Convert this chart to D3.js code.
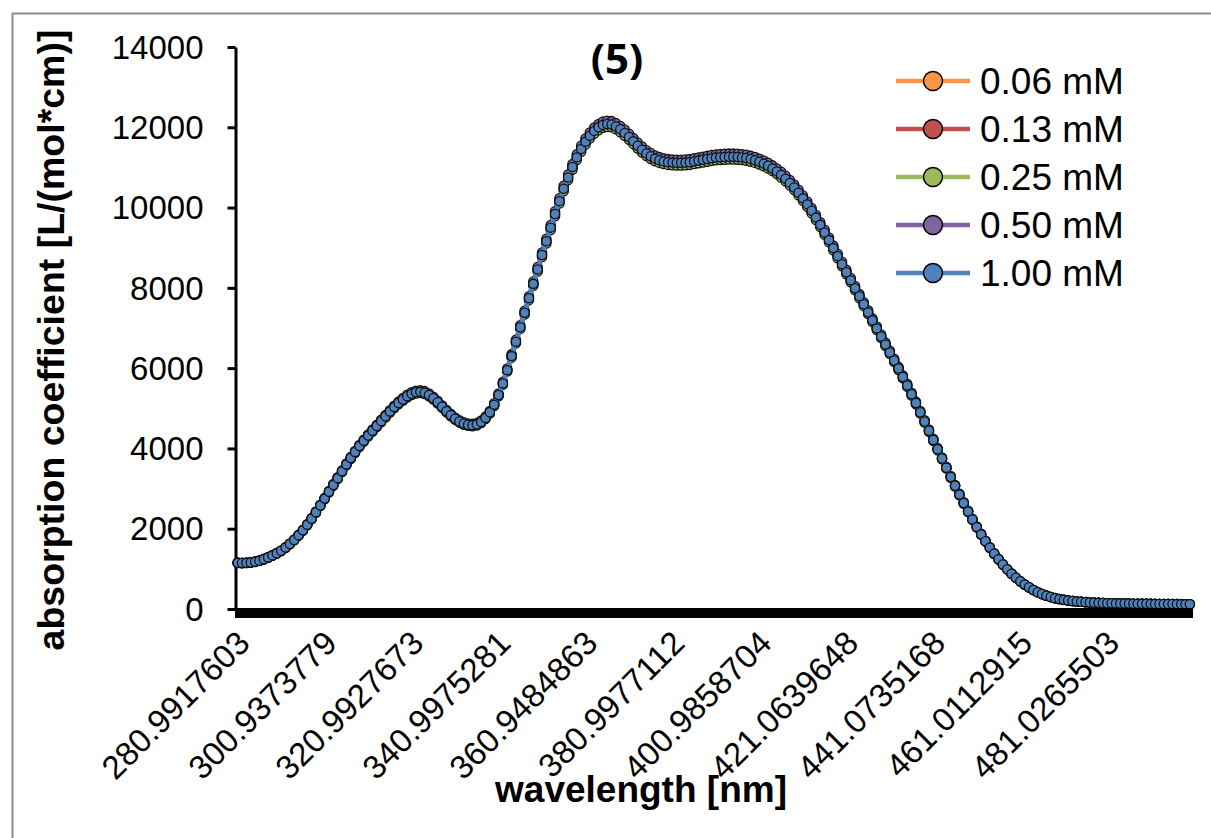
<!DOCTYPE html>
<html>
<head>
<meta charset="utf-8">
<script src="https://cdn.jsdelivr.net/npm/d3@7"></script>
<style>
  html, body { margin: 0; padding: 0; background: #fff; }
  svg { display: block; font-family: "Liberation Sans", Arial, sans-serif; }
</style>
</head>
<body>
<svg id="chart" width="1211" height="838"></svg>
<script>
/* ============================================
   Absorption spectrum (5) - line chart with markers
   categorical wavelength axis, 5 concentrations
   ============================================ */

// Wavelength categories [nm]
const wavelengths = [
  280.9917603, 281.99, 282.98, 283.98, 284.98, 285.98, 286.97, 287.97, 288.97, 289.97, 290.96, 291.96, 292.96, 293.95, 294.95, 295.95, 296.95, 297.94, 298.94, 299.94,
  300.9373779, 301.94, 302.94, 303.95, 304.95, 305.95, 306.95, 307.96, 308.96, 309.96, 310.96, 311.97, 312.97, 313.97, 314.98, 315.98, 316.98, 317.99, 318.99, 319.99,
  320.9927673, 321.99, 322.99, 323.99, 324.99, 325.99, 326.99, 327.99, 328.99, 330.00, 331.00, 332.01, 333.00, 334.01, 335.00, 336.01, 337.00, 338.01, 339.00, 340.01,
  340.9975281, 342.00, 343.00, 343.99, 344.99, 345.99, 346.98, 347.98, 348.98, 349.98, 350.97, 351.97, 352.97, 353.97, 354.96, 355.96, 356.96, 357.96, 358.95, 359.95,
  360.9484863, 361.95, 362.95, 363.96, 364.96, 365.96, 366.96, 367.97, 368.97, 369.97, 370.97, 371.98, 372.98, 373.98, 374.98, 375.99, 376.99, 377.99, 378.99, 380.00,
  380.9977112, 382.00, 383.00, 384.01, 384.99, 385.99, 386.99, 387.99, 388.99, 389.99, 390.99, 391.99, 392.99, 393.99, 394.99, 395.99, 396.99, 397.99, 398.99, 399.99,
  400.9858704, 401.99, 402.99, 404.00, 405.00, 406.00, 407.01, 408.01, 409.02, 410.02, 411.02, 412.03, 413.03, 414.04, 415.04, 416.04, 417.05, 418.05, 419.06, 420.06,
  421.0639648, 422.06, 423.07, 424.07, 425.07, 426.07, 427.07, 428.07, 429.07, 430.07, 431.07, 432.07, 433.07, 434.07, 435.07, 436.07, 437.07, 438.07, 439.07, 440.07,
  441.0735168, 442.07, 443.07, 444.06, 445.06, 446.06, 447.05, 448.05, 449.05, 450.04, 451.04, 452.04, 453.04, 454.03, 455.03, 456.03, 457.02, 458.02, 459.02, 460.01,
  461.0112915, 462.01, 463.01, 464.01, 465.01, 466.02, 467.02, 468.02, 469.02, 470.02, 471.02, 472.02, 473.02, 474.02, 475.02, 476.02, 477.02, 478.02, 479.03, 480.03,
  481.0265503, 482.03, 483.03, 484.03, 485.03, 486.03, 487.03, 488.03, 489.03, 490.03, 491.03, 492.03, 493.03, 494.03, 495.03, 496.03, 497.03, 498.03, 499.03, 500.03
];

// Absorption coefficient [L/(mol*cm)] per concentration
const conc006 = [
  1148, 1143, 1148, 1158, 1176, 1203, 1238, 1282, 1332, 1387, 1447, 1527, 1617, 1717, 1831, 1956, 2096, 2245, 2405, 2575,
  2744, 2914, 3084, 3253, 3423, 3593, 3752, 3902, 4052, 4182, 4311, 4431, 4551, 4671, 4790, 4910, 5020, 5120, 5210, 5289,
  5349, 5389, 5399, 5379, 5319, 5240, 5140, 5030, 4920, 4820, 4731, 4661, 4611, 4581, 4571, 4591, 4651, 4750, 4890, 5080,
  5319, 5609, 5938, 6287, 6647, 7006, 7365, 7725, 8084, 8443, 8802, 9142, 9481, 9820, 10140, 10449, 10729, 10988, 11228, 11437,
  11617, 11766, 11886, 11976, 12036, 12056, 12046, 11996, 11926, 11836, 11736, 11627, 11517, 11417, 11327, 11257, 11198, 11158, 11128, 11108,
  11098, 11093, 11093, 11098, 11108, 11128, 11148, 11168, 11188, 11208, 11223, 11233, 11238, 11243, 11243, 11238, 11228, 11213, 11188, 11158,
  11118, 11073, 11018, 10953, 10878, 10793, 10699, 10594, 10479, 10349, 10210, 10060, 9900, 9731, 9551, 9361, 9172, 8972, 8772, 8573,
  8373, 8174, 7974, 7774, 7575, 7375, 7176, 6976, 6776, 6577, 6377, 6178, 5978, 5768, 5559, 5339, 5120, 4890, 4661, 4431,
  4202, 3972, 3743, 3513, 3283, 3064, 2844, 2635, 2425, 2226, 2036, 1856, 1687, 1527, 1377, 1238, 1108, 988, 878, 778,
  689, 609, 539, 474, 419, 371, 331, 297, 269, 246, 228, 212, 199, 188, 179, 171, 164, 158, 153, 149,
  145, 142, 140, 138, 136, 134, 132, 131, 130, 129, 128, 127, 126, 125, 124, 123, 122, 121, 120, 119
];
const conc013 = [
  1153, 1148, 1153, 1163, 1182, 1209, 1244, 1289, 1339, 1394, 1454, 1535, 1625, 1725, 1841, 1966, 2106, 2257, 2417, 2588,
  2758, 2929, 3099, 3270, 3440, 3611, 3771, 3922, 4072, 4203, 4333, 4453, 4574, 4694, 4814, 4935, 5045, 5145, 5236, 5316,
  5376, 5416, 5426, 5406, 5346, 5266, 5165, 5055, 4945, 4844, 4754, 4684, 4634, 4604, 4594, 4614, 4674, 4774, 4915, 5105,
  5346, 5637, 5968, 6319, 6680, 7041, 7402, 7763, 8124, 8485, 8846, 9187, 9529, 9870, 10190, 10501, 10782, 11043, 11284, 11494,
  11675, 11825, 11946, 12036, 12096, 12116, 12106, 12056, 11986, 11896, 11795, 11685, 11575, 11474, 11384, 11314, 11254, 11214, 11183, 11163,
  11153, 11148, 11148, 11153, 11163, 11183, 11204, 11224, 11244, 11264, 11279, 11289, 11294, 11299, 11299, 11294, 11284, 11269, 11244, 11214,
  11173, 11128, 11073, 11008, 10933, 10847, 10752, 10647, 10532, 10401, 10261, 10110, 9950, 9779, 9599, 9408, 9217, 9017, 8816, 8616,
  8415, 8215, 8014, 7813, 7613, 7412, 7212, 7011, 6810, 6610, 6409, 6209, 6008, 5797, 5587, 5366, 5145, 4915, 4684, 4453,
  4223, 3992, 3761, 3531, 3300, 3079, 2859, 2648, 2437, 2237, 2046, 1866, 1695, 1535, 1384, 1244, 1113, 993, 883, 782,
  692, 612, 542, 476, 421, 373, 333, 299, 271, 248, 229, 213, 200, 189, 180, 172, 165, 158, 153, 149,
  145, 142, 140, 138, 136, 134, 132, 131, 130, 129, 128, 127, 126, 125, 124, 123, 122, 121, 120, 119
];
const conc025 = [
  1143, 1138, 1143, 1153, 1171, 1198, 1233, 1277, 1327, 1382, 1441, 1521, 1610, 1710, 1824, 1948, 2087, 2237, 2396, 2565,
  2734, 2902, 3071, 3240, 3409, 3578, 3737, 3887, 4036, 4165, 4294, 4413, 4533, 4652, 4771, 4890, 5000, 5099, 5189, 5268,
  5328, 5368, 5378, 5358, 5298, 5219, 5119, 5010, 4900, 4801, 4712, 4642, 4592, 4562, 4553, 4572, 4632, 4731, 4871, 5059,
  5298, 5586, 5914, 6262, 6620, 6978, 7336, 7694, 8051, 8409, 8767, 9105, 9443, 9781, 10099, 10407, 10686, 10944, 11183, 11391,
  11570, 11719, 11839, 11928, 11988, 12008, 11998, 11948, 11878, 11789, 11689, 11580, 11471, 11371, 11282, 11212, 11153, 11113, 11083, 11063,
  11053, 11048, 11048, 11053, 11063, 11083, 11103, 11123, 11143, 11163, 11178, 11187, 11192, 11197, 11197, 11192, 11183, 11168, 11143, 11113,
  11073, 11028, 10974, 10909, 10835, 10750, 10656, 10551, 10437, 10308, 10169, 10020, 9860, 9692, 9513, 9324, 9135, 8936, 8737, 8538,
  8340, 8141, 7942, 7743, 7544, 7346, 7147, 6948, 6749, 6550, 6352, 6153, 5954, 5745, 5537, 5318, 5099, 4871, 4642, 4413,
  4185, 3956, 3728, 3499, 3270, 3052, 2833, 2624, 2415, 2217, 2028, 1849, 1680, 1521, 1372, 1233, 1103, 984, 875, 775,
  686, 606, 537, 472, 417, 370, 330, 296, 268, 245, 227, 211, 198, 187, 178, 170, 163, 157, 152, 148,
  144, 141, 139, 137, 135, 133, 131, 130, 129, 128, 127, 126, 125, 124, 123, 122, 121, 120, 119, 118
];
const conc050 = [
  1158, 1153, 1158, 1168, 1186, 1213, 1249, 1294, 1344, 1400, 1460, 1541, 1631, 1732, 1848, 1974, 2115, 2266, 2427, 2598,
  2769, 2940, 3112, 3283, 3454, 3625, 3786, 3937, 4088, 4219, 4350, 4471, 4592, 4713, 4834, 4954, 5065, 5166, 5257, 5337,
  5398, 5438, 5448, 5428, 5367, 5287, 5186, 5075, 4965, 4864, 4773, 4703, 4652, 4622, 4612, 4632, 4693, 4793, 4934, 5126,
  5367, 5659, 5992, 6344, 6707, 7069, 7432, 7794, 8157, 8519, 8882, 9224, 9567, 9909, 10231, 10543, 10825, 11087, 11329, 11540,
  11721, 11873, 11993, 12084, 12144, 12165, 12154, 12104, 12034, 11943, 11842, 11732, 11621, 11520, 11429, 11359, 11299, 11258, 11228, 11208,
  11198, 11193, 11193, 11198, 11208, 11228, 11248, 11268, 11288, 11309, 11324, 11334, 11339, 11344, 11344, 11339, 11329, 11314, 11288, 11258,
  11218, 11173, 11117, 11052, 10976, 10891, 10795, 10689, 10574, 10443, 10302, 10151, 9989, 9818, 9637, 9446, 9254, 9053, 8852, 8650,
  8449, 8247, 8046, 7845, 7643, 7442, 7240, 7039, 6838, 6636, 6435, 6233, 6032, 5820, 5609, 5387, 5166, 4934, 4703, 4471,
  4239, 4008, 3776, 3545, 3313, 3091, 2870, 2658, 2447, 2246, 2054, 1873, 1702, 1541, 1390, 1249, 1118, 997, 886, 785,
  695, 614, 544, 478, 423, 375, 334, 300, 272, 249, 230, 213, 200, 189, 180, 172, 165, 159, 154, 150,
  146, 143, 141, 139, 137, 135, 133, 132, 131, 130, 129, 128, 127, 126, 125, 124, 123, 122, 121, 120
];
const conc100 = [
  1150, 1145, 1150, 1160, 1178, 1205, 1240, 1285, 1335, 1390, 1450, 1530, 1620, 1720, 1835, 1960, 2100, 2250, 2410, 2580,
  2750, 2920, 3090, 3260, 3430, 3600, 3760, 3910, 4060, 4190, 4320, 4440, 4560, 4680, 4800, 4920, 5030, 5130, 5220, 5300,
  5360, 5400, 5410, 5390, 5330, 5250, 5150, 5040, 4930, 4830, 4740, 4670, 4620, 4590, 4580, 4600, 4660, 4760, 4900, 5090,
  5330, 5620, 5950, 6300, 6660, 7020, 7380, 7740, 8100, 8460, 8820, 9160, 9500, 9840, 10160, 10470, 10750, 11010, 11250, 11460,
  11640, 11790, 11910, 12000, 12060, 12080, 12070, 12020, 11950, 11860, 11760, 11650, 11540, 11440, 11350, 11280, 11220, 11180, 11150, 11130,
  11120, 11115, 11115, 11120, 11130, 11150, 11170, 11190, 11210, 11230, 11245, 11255, 11260, 11265, 11265, 11260, 11250, 11235, 11210, 11180,
  11140, 11095, 11040, 10975, 10900, 10815, 10720, 10615, 10500, 10370, 10230, 10080, 9920, 9750, 9570, 9380, 9190, 8990, 8790, 8590,
  8390, 8190, 7990, 7790, 7590, 7390, 7190, 6990, 6790, 6590, 6390, 6190, 5990, 5780, 5570, 5350, 5130, 4900, 4670, 4440,
  4210, 3980, 3750, 3520, 3290, 3070, 2850, 2640, 2430, 2230, 2040, 1860, 1690, 1530, 1380, 1240, 1110, 990, 880, 780,
  690, 610, 540, 475, 420, 372, 332, 298, 270, 247, 228, 212, 199, 188, 179, 171, 164, 158, 153, 149,
  145, 142, 140, 138, 136, 134, 132, 131, 130, 129, 128, 127, 126, 125, 124, 123, 122, 121, 120, 119
];

const seriesNames = ['0.06 mM', '0.13 mM', '0.25 mM', '0.50 mM', '1.00 mM'];
const seriesValues = [conc006, conc013, conc025, conc050, conc100];
const seriesColors = ['#F79646', '#C0504D', '#9BBB59', '#8064A2', '#4F81BD'];

const yTicks = [0, 2000, 4000, 6000, 8000, 10000, 12000, 14000];
const labelEvery = 20;   // category label interval

const svg = d3.select('#chart');

// outer chart-area frame (only top / left edges visible)
svg.append('rect')
  .attr('x', 12.5).attr('y', 13.5)
  .attr('width', 1400).attr('height', 1000)
  .attr('fill', '#fff')
  .attr('stroke', '#8c8c8c')
  .attr('stroke-width', 2);

// Scales
const x = d3.scaleBand()
  .domain(wavelengths)
  .range([235.5, 1192]);

const y = d3.scaleLinear()
  .domain([0, 14000])
  .range([609, 47]);

const cx = d => x(d) + x.bandwidth() / 2;

// Y axis
const yAxis = svg.append('g')
  .attr('transform', 'translate(235.5,0)')
  .call(d3.axisLeft(y)
    .tickValues(yTicks)
    .tickFormat(d3.format('d'))
    .tickSize(8)
    .tickPadding(24)
    .tickSizeOuter(0));

yAxis.select('.domain').attr('stroke', '#000').attr('stroke-width', 3);
yAxis.selectAll('.tick line').attr('stroke', '#000').attr('stroke-width', 3);
yAxis.selectAll('.tick text')
  .attr('font-size', 33)
  .attr('font-family', '"Liberation Sans", Arial, sans-serif')
  .attr('fill', '#000')
  .attr('dy', '0.34em');

// Series: line first, then markers
seriesValues.forEach((vals, s) => {
  const pts = wavelengths.map((w, i) => ({ w, v: vals[i] }));
  const line = d3.line()
    .x(d => cx(d.w))
    .y(d => y(d.v));

  svg.append('path')
    .datum(pts)
    .attr('fill', 'none')
    .attr('stroke', seriesColors[s])
    .attr('stroke-width', 4.5)
    .attr('d', line);

  svg.append('g')
    .selectAll('circle')
    .data(pts)
    .join('circle')
    .attr('cx', d => cx(d.w))
    .attr('cy', d => y(d.v))
    .attr('r', 4.6)
    .attr('fill', seriesColors[s])
    .attr('stroke', '#111')
    .attr('stroke-width', 1.3);
});

// X axis (category ticks on every wavelength -> dense black band)
const xAxis = svg.append('g')
  .attr('transform', 'translate(0,609)')
  .call(d3.axisBottom(x)
    .tickSize(9)
    .tickSizeOuter(0)
    .tickFormat(d => wavelengths.indexOf(d) % labelEvery === 0 ? String(d) : ''));

xAxis.select('.domain').attr('stroke', '#000').attr('stroke-width', 3);
xAxis.selectAll('.tick line')
  .attr('stroke', '#000')
  .attr('stroke-width', 6)
  .attr('shape-rendering', 'crispEdges');
xAxis.selectAll('.tick text')
  .attr('font-size', 33)
  .attr('font-family', '"Liberation Sans", Arial, sans-serif')
  .attr('fill', '#000')
  .attr('text-anchor', 'end')
  .attr('x', 0)
  .attr('y', 0)
  .attr('dy', 0)
  .attr('transform', 'translate(14,36) rotate(-45)');

// Axis titles
svg.append('text')
  .attr('transform', 'translate(64,340) rotate(-90)')
  .attr('text-anchor', 'middle')
  .attr('font-size', 37.5)
  .attr('font-weight', 'bold')
  .text('absorption coefficient [L/(mol*cm)]');

svg.append('text')
  .attr('x', 641)
  .attr('y', 802)
  .attr('text-anchor', 'middle')
  .attr('font-size', 37)
  .attr('font-weight', 'bold')
  .text('wavelength [nm]');

// Chart title
svg.append('text')
  .attr('x', 617)
  .attr('y', 74)
  .attr('text-anchor', 'middle')
  .attr('font-family', '"Open Sans", "Noto Sans", sans-serif')
  .attr('font-size', 42)
  .attr('font-weight', 'bold')
  .text('(5)');

// Legend
const legend = svg.append('g')
  .selectAll('g')
  .data(seriesNames)
  .join('g')
  .attr('transform', (d, i) => `translate(0,${81 + i * 48})`);

legend.append('line')
  .attr('x1', 896).attr('x2', 970)
  .attr('stroke', (d, i) => seriesColors[i])
  .attr('stroke-width', 4.5);

legend.append('circle')
  .attr('cx', 933)
  .attr('r', 9.5)
  .attr('fill', (d, i) => seriesColors[i])
  .attr('stroke', '#000')
  .attr('stroke-width', 1.5);

legend.append('text')
  .attr('x', 980)
  .attr('dy', '0.34em')
  .attr('font-size', 37)
  .text(d => d);
</script>
</body>
</html>
